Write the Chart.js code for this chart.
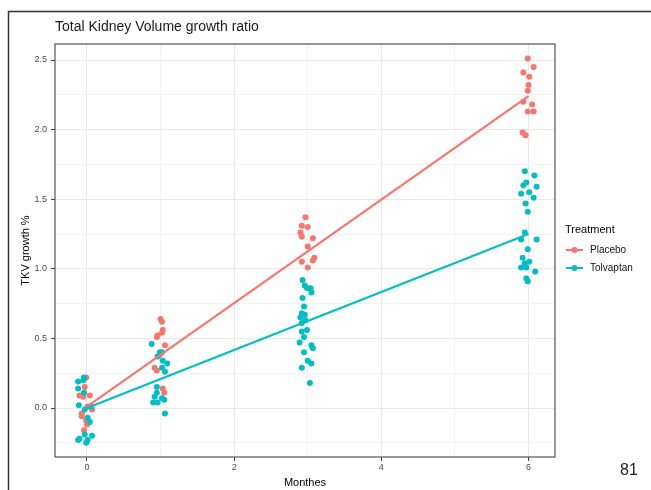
<!DOCTYPE html>
<html><head><meta charset="utf-8">
<script src="https://cdn.jsdelivr.net/npm/chart.js@4/dist/chart.umd.min.js"></script>
<style>html,body{margin:0;padding:0;background:#fff;}</style>
</head><body>
<canvas id="c" width="651" height="490" style="display:block;width:651px;height:490px"></canvas>
<script>
// ---- data ----
const chartTitle = 'Total Kidney Volume growth ratio';
const xTitle = 'Monthes';
const yTitle = 'TKV growth %';
const legendTitle = 'Treatment';
const seriesNames = ['Placebo', 'Tolvaptan'];
const seriesColors = ['#F8766D', '#00BFC4'];

// jittered month positions and growth values, Placebo
const placeboMonth = [-0.01,-0.03,-0.10,-0.05,0.04,0.01,0.07,-0.07,-0.07,0.00,-0.04,-0.01,
  1.00,1.02,1.03,1.02,0.96,0.95,1.06,0.99,0.92,0.95,1.03,1.05,
  2.97,2.92,3.00,2.90,2.92,3.07,3.00,3.09,3.07,2.92,3.00,2.99,
  5.99,6.07,5.93,6.01,6.00,5.99,5.93,6.05,5.99,6.07,5.92,5.96];
const placeboGrowth = [0.22,0.15,0.09,0.08,0.09,0.01,-0.01,-0.04,-0.06,-0.12,-0.16,-0.09,
  0.64,0.62,0.56,0.54,0.52,0.51,0.45,0.38,0.29,0.27,0.14,0.11,
  1.37,1.31,1.30,1.26,1.23,1.22,1.16,1.08,1.06,1.05,1.01,0.86,
  2.51,2.45,2.41,2.38,2.32,2.28,2.20,2.18,2.13,2.13,1.98,1.96];

// Tolvaptan
const tolvaptanMonth = [-0.12,-0.05,-0.04,-0.12,-0.04,-0.11,0.05,-0.03,0.01,0.04,-0.03,-0.10,0.01,-0.01,-0.12,0.07,
  0.88,0.99,1.02,0.96,1.03,1.09,1.02,1.06,0.95,0.95,0.92,0.90,0.96,1.02,1.05,1.06,
  2.93,2.96,3.00,3.04,2.93,3.05,2.95,2.92,2.96,2.90,2.97,2.92,2.99,2.92,2.95,2.89,3.05,3.07,2.95,3.00,3.05,2.92,3.03,
  5.95,6.08,5.97,5.93,6.11,5.90,6.01,6.07,5.96,5.99,5.95,5.90,6.11,5.99,5.92,6.01,5.95,5.90,5.97,6.09,5.97,5.99];
const tolvaptanGrowth = [0.19,0.20,0.22,0.14,0.11,0.02,0.01,-0.01,-0.07,-0.10,-0.19,-0.22,-0.23,-0.25,-0.23,-0.20,
  0.46,0.40,0.40,0.37,0.34,0.32,0.29,0.26,0.15,0.11,0.08,0.04,0.04,0.07,0.06,-0.04,
  0.92,0.88,0.86,0.86,0.79,0.83,0.73,0.68,0.67,0.65,0.63,0.61,0.56,0.55,0.51,0.47,0.45,0.43,0.40,0.34,0.32,0.29,0.18,
  1.70,1.67,1.62,1.60,1.59,1.54,1.55,1.51,1.47,1.41,1.26,1.21,1.21,1.14,1.08,1.05,1.04,1.01,1.01,0.98,0.93,0.91];

// fitted trend lines
const fitMonth = [0, 6];
const placeboFit = [0.01, 2.24];
const tolvaptanFit = [0.00, 1.25];

// axes
const xTickValues = [0, 1, 2, 3, 4, 5, 6];
const xTickLabels = ['0', '', '2', '', '4', '', '6'];
const yTickValues = [-0.25, 0, 0.25, 0.5, 0.75, 1.0, 1.25, 1.5, 1.75, 2.0, 2.25, 2.5];
const yTickLabels = ['', '0.0', '', '0.5', '', '1.0', '', '1.5', '', '2.0', '', '2.5'];
const pageNumber = '81';

// ---- chart ----
const FONT = "'Liberation Sans', Arial, sans-serif";
const toPts = (xs, ys) => xs.map((x, i) => ({x: x, y: ys[i]}));

const frame = {
  id: 'frame',
  beforeDraw(chart) {
    const c = chart.ctx;
    c.save();
    c.fillStyle = '#fff';
    c.fillRect(0, 0, chart.width, chart.height);
    c.restore();
  },
  afterDraw(chart) {
    const c = chart.ctx, a = chart.chartArea;
    c.save();
    // panel border
    c.strokeStyle = '#555';
    c.lineWidth = 1.2;
    c.strokeRect(a.left, a.top, a.right - a.left, a.bottom - a.top);
    // outer slide frame
    c.strokeStyle = '#333';
    c.lineWidth = 1.5;
    c.beginPath();
    c.moveTo(8.5, chart.height);
    c.lineTo(8.5, 11.5);
    c.lineTo(chart.width, 11.5);
    c.stroke();
    // title
    c.fillStyle = '#1a1a1a';
    c.font = '14px ' + FONT;
    c.textBaseline = 'middle';
    c.textAlign = 'left';
    c.fillText(chartTitle, a.left, 27);
    // legend
    const lx = a.right + 10;
    c.font = '11px ' + FONT;
    c.fillStyle = '#000';
    c.fillText(legendTitle, lx, 230);
    seriesNames.forEach((name, i) => {
      const y = 250 + i * 18;
      c.strokeStyle = seriesColors[i];
      c.lineWidth = 2;
      c.beginPath();
      c.moveTo(lx + 1, y);
      c.lineTo(lx + 18, y);
      c.stroke();
      c.fillStyle = seriesColors[i];
      c.beginPath();
      c.arc(lx + 9.5, y, 3, 0, Math.PI * 2);
      c.fill();
      c.fillStyle = '#111';
      c.font = '10px ' + FONT;
      c.fillText(name, lx + 25, y);
    });
    // page number
    c.font = '16px ' + FONT;
    c.fillStyle = '#222';
    c.fillText(pageNumber, 620, 471);
    c.restore();
  }
};

const isMajorX = ctx => xTickLabels[ctx.index] !== '';
const isMajorY = ctx => yTickLabels[ctx.index] !== '';

new Chart(document.getElementById('c'), {
  type: 'scatter',
  data: {
    datasets: [
      {label: seriesNames[0] + ' fit', type: 'line', data: toPts(fitMonth, placeboFit),
       borderColor: seriesColors[0], borderWidth: 2.2, pointRadius: 0, fill: false, order: 0},
      {label: seriesNames[1] + ' fit', type: 'line', data: toPts(fitMonth, tolvaptanFit),
       borderColor: seriesColors[1], borderWidth: 2.2, pointRadius: 0, fill: false, order: 0},
      {label: seriesNames[0], data: toPts(placeboMonth, placeboGrowth),
       backgroundColor: seriesColors[0], borderWidth: 0, pointRadius: 3, order: 2},
      {label: seriesNames[1], data: toPts(tolvaptanMonth, tolvaptanGrowth),
       backgroundColor: seriesColors[1], borderWidth: 0, pointRadius: 3, order: 1}
    ]
  },
  options: {
    responsive: false,
    animation: false,
    devicePixelRatio: 1,
    layout: {padding: {left: 0, top: 44, right: 651 - 555, bottom: 0}},
    plugins: {legend: {display: false}, tooltip: {enabled: false}},
    scales: {
      x: {
        type: 'linear', min: -0.434, max: 6.36,
        afterBuildTicks: s => { s.ticks = xTickValues.map(v => ({value: v})); },
        afterFit: s => { s.height = 33; },
        ticks: {callback: (v, i) => xTickLabels[i], color: '#4d4d4d', autoSkip: false, maxRotation: 0,
                font: {family: FONT, size: 9}, padding: 1},
        grid: {color: ctx => isMajorX(ctx) ? '#e9e9e9' : '#f3f3f3', lineWidth: 1, tickLength: 4,
               tickColor: ctx => isMajorX(ctx) ? '#444' : 'rgba(0,0,0,0)'},
        border: {display: false},
        title: {display: true, text: xTitle, color: '#000', font: {family: FONT, size: 11},
                padding: {top: 0, bottom: 0}}
      },
      y: {
        type: 'linear', min: -0.352, max: 2.615,
        afterBuildTicks: s => { s.ticks = yTickValues.map(v => ({value: v})); },
        afterFit: s => { s.width = 55; },
        ticks: {callback: (v, i) => yTickLabels[i], color: '#4d4d4d', autoSkip: false,
                font: {family: FONT, size: 9}, padding: 4},
        grid: {color: ctx => isMajorY(ctx) ? '#e9e9e9' : '#f3f3f3', lineWidth: 1, tickLength: 4,
               tickColor: ctx => isMajorY(ctx) ? '#444' : 'rgba(0,0,0,0)'},
        border: {display: false},
        title: {display: true, text: yTitle, color: '#000', font: {family: FONT, size: 11},
                padding: {top: 19, bottom: 0}}
      }
    }
  },
  plugins: [frame]
});
</script>
</body></html>
